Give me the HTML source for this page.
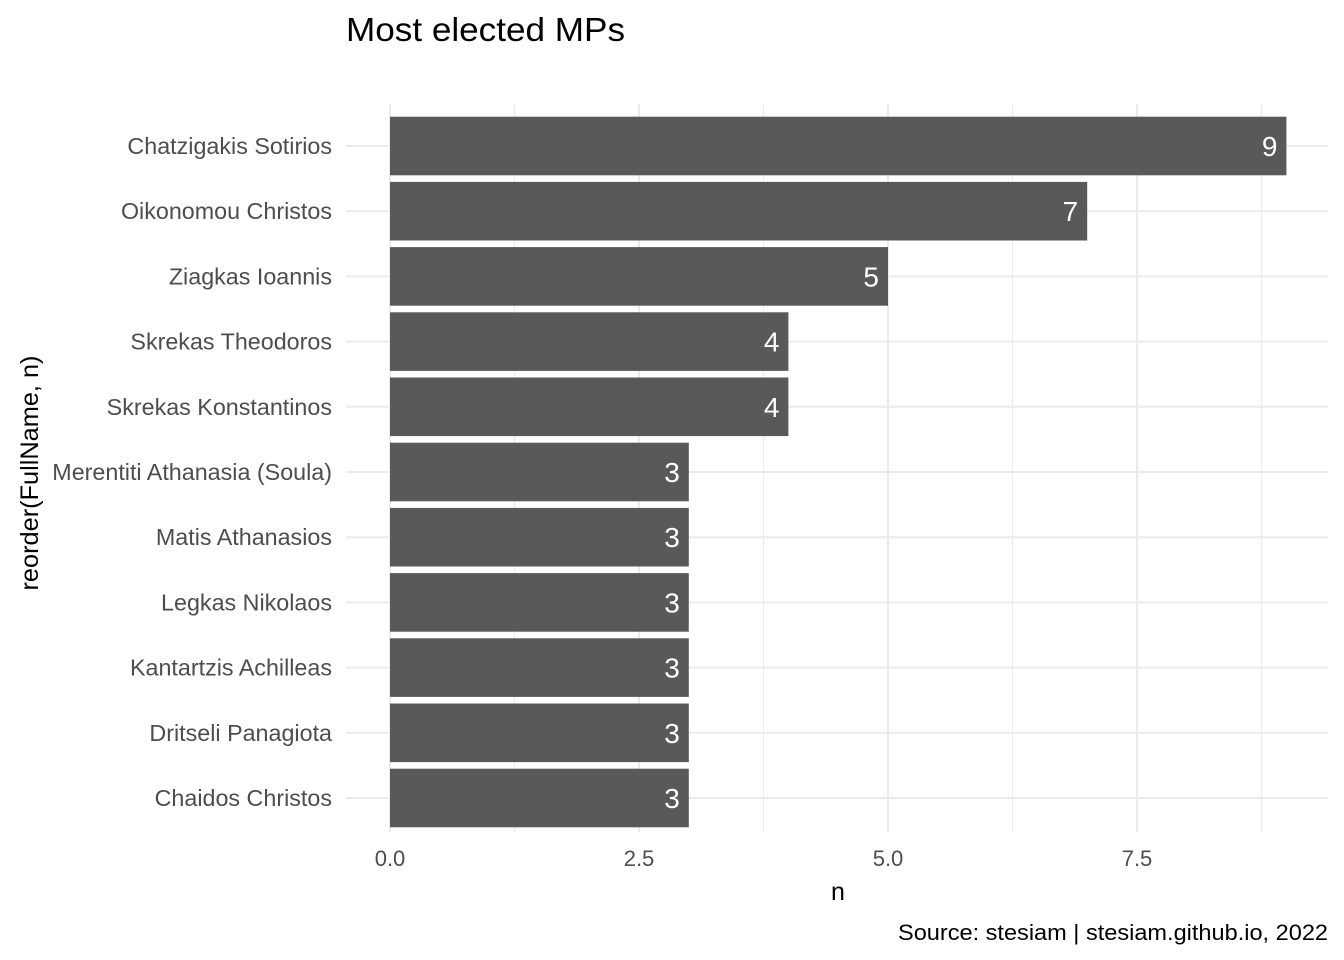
<!DOCTYPE html>
<html><head><meta charset="utf-8"><style>
body{margin:0;background:#fff;}
svg{display:block;font-family:"Liberation Sans",Arial,sans-serif;}
</style></head><body>
<svg id="chart" width="1344" height="960">
<text x="346" y="41" font-size="33" textLength="279" lengthAdjust="spacingAndGlyphs" fill="#000">Most elected MPs</text>
<g id="grid"></g><g id="bars"></g><g id="labels"></g>
<text x="838" y="900" font-size="25" text-anchor="middle" fill="#000">n</text>
<text transform="translate(38,473) rotate(-90)" font-size="25" text-anchor="middle" textLength="235" lengthAdjust="spacingAndGlyphs" fill="#000">reorder(FullName, n)</text>
<text x="1328" y="940" font-size="22" text-anchor="end" textLength="430" lengthAdjust="spacingAndGlyphs" fill="#000">Source: stesiam | stesiam.github.io, 2022</text>
</svg>
<script>
const categories=["Chatzigakis Sotirios","Oikonomou Christos","Ziagkas Ioannis","Skrekas Theodoros","Skrekas Konstantinos","Merentiti Athanasia (Soula)","Matis Athanasios","Legkas Nikolaos","Kantartzis Achilleas","Dritseli Panagiota","Chaidos Christos"];
const values=[9,7,5,4,4,3,3,3,3,3,3];
const xTicks=[0,2.5,5,7.5];
const xTickLabels=["0.0","2.5","5.0","7.5"];
const xMinor=[1.25,3.75,6.25,8.75];
const NS="http://www.w3.org/2000/svg";
const xs=v=>390+v*99.6;
const y0=146,step=65.2;
const ys=i=>y0+i*step;
const pTop=104,pBot=832,pLeft=346,pRight=1328;
function mk(tag,attrs,parent){const e=document.createElementNS(NS,tag);for(const k in attrs)e.setAttribute(k,attrs[k]);document.getElementById(parent).appendChild(e);return e;}
xMinor.forEach(v=>{const l=mk('line',{x1:xs(v),x2:xs(v),y1:pTop,y2:pBot,stroke:'#ebebeb','stroke-width':1},'grid');

});
xTicks.forEach((v,i)=>{const l=mk('line',{x1:xs(v),x2:xs(v),y1:pTop,y2:pBot,stroke:'#ebebeb','stroke-width':2},'grid');


const t=mk('text',{x:xs(v),y:866,'font-size':22,fill:'#4d4d4d','text-anchor':'middle'},'labels');t.textContent=xTickLabels[i];

});
categories.forEach((c,i)=>{const l=mk('line',{x1:pLeft,x2:pRight,y1:ys(i),y2:ys(i),stroke:'#ebebeb','stroke-width':2},'grid');


const t=mk('text',{x:332,y:ys(i)+8,'font-size':23.3,fill:'#4d4d4d','text-anchor':'end'},'labels');t.textContent=c;


const h=58.6;const b=mk('rect',{x:xs(0),y:ys(i)-h/2,width:xs(values[i])-xs(0),height:h,fill:'#595959'},'bars');


const v=mk('text',{x:xs(values[i])-9,y:ys(i)+10,'font-size':28,fill:'#fff','text-anchor':'end'},'labels');v.textContent=values[i];

});
</script>
</body></html>
